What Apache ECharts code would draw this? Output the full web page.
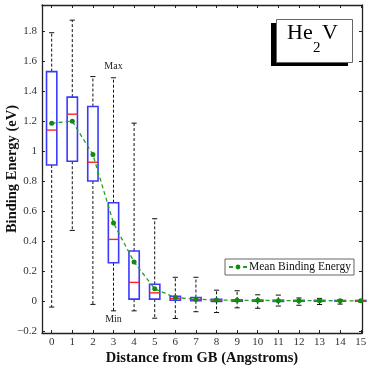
<!DOCTYPE html>
<html>
<head>
<meta charset="utf-8">
<script src="https://cdn.jsdelivr.net/npm/echarts@6/dist/echarts.min.js"></script>
<style>
  html, body { margin: 0; padding: 0; background: #fff; }
  #main { width: 374px; height: 369px; }
</style>
</head>
<body>
<div id="main"></div>
<script>
// distance from GB (x positions)
const distances = [0, 1, 2, 3, 4, 5, 6, 7, 8, 9, 10, 11, 12, 13, 14, 15];
// box plot stats per distance
const minVals    = [-0.042, 0.47, -0.024, -0.067, -0.067, -0.116, -0.118, -0.073, -0.078, -0.047, -0.05, -0.035, -0.03, -0.025, -0.022, -0.008];
const q1Vals     = [0.907, 0.932, 0.80, 0.254, 0.011, 0.011, 0.004, 0.0, -0.004, -0.003, -0.003, -0.004, -0.003, -0.003, -0.002, -0.002];
const medianVals = [1.14, 1.246, 0.925, 0.41, 0.123, 0.053, 0.015, 0.008, 0.002, 0.001, 0.001, 0.0, 0.0, 0.0, 0.0, 0.0];
const q3Vals     = [1.53, 1.36, 1.297, 0.655, 0.332, 0.11, 0.03, 0.022, 0.01, 0.006, 0.005, 0.004, 0.003, 0.003, 0.002, 0.002];
const maxVals    = [1.79, 1.874, 1.497, 1.489, 1.186, 0.548, 0.157, 0.157, 0.071, 0.067, 0.04, 0.038, 0.019, 0.016, 0.008, 0.003];
// mean binding energy
const meanVals   = [1.186, 1.199, 0.976, 0.519, 0.259, 0.08, 0.022, 0.011, 0.005, 0.003, 0.003, 0.001, 0.001, 0.001, 0.0, 0.0];
// tick labels
const yTicks = [-0.2, 0, 0.2, 0.4, 0.6, 0.8, 1, 1.2, 1.4, 1.6, 1.8];
const xTicks = distances;

const FONT = 'Liberation Serif';
const BOX_W = 0.5;   // box width in x units
const CAP_W = 0.25;  // whisker cap width in x units

const boxData = distances.map((d, i) => [d, minVals[i], q1Vals[i], medianVals[i], q3Vals[i], maxVals[i]]);
const meanData = distances.map((d, i) => [d, meanVals[i]]);

const myChart = echarts.init(document.getElementById('main'));

const renderBox = (params, api) => {
    const x = api.value(0);
    const pMin = api.coord([x, api.value(1)]);
    const pQ1 = api.coord([x, api.value(2)]);
    const pMed = api.coord([x, api.value(3)]);
    const pQ3 = api.coord([x, api.value(4)]);
    const pMax = api.coord([x, api.value(5)]);
    const half = api.size([BOX_W, 0])[0] / 2;
    const cap = api.size([CAP_W, 0])[0] / 2;
    const cx = pMed[0];
    const dash = { stroke: '#111', lineWidth: 1, lineDash: [3, 2], fill: null };
    const solid = { stroke: '#111', lineWidth: 1, fill: null };
    return {
        type: 'group',
        children: [
            // whiskers
            { type: 'line', shape: { x1: cx, y1: pQ3[1], x2: cx, y2: pMax[1] }, style: dash },
            { type: 'line', shape: { x1: cx, y1: pQ1[1], x2: cx, y2: pMin[1] }, style: dash },
            { type: 'line', shape: { x1: cx - cap, y1: pMax[1], x2: cx + cap, y2: pMax[1] }, style: solid },
            { type: 'line', shape: { x1: cx - cap, y1: pMin[1], x2: cx + cap, y2: pMin[1] }, style: solid },
            // box
            {
                type: 'rect',
                shape: { x: cx - half, y: pQ3[1], width: half * 2, height: pQ1[1] - pQ3[1] },
                style: { stroke: '#3a3aff', lineWidth: 1.6, fill: null }
            },
            // median
            {
                type: 'line',
                shape: { x1: cx - half, y1: pMed[1], x2: cx + half, y2: pMed[1] },
                style: { stroke: '#ff2222', lineWidth: 1.4 }
            }
        ]
    };
};

const tickFmt = (v) => String(v).replace('-', '\u2212');

const frameLine = { show: true, onZero: false, lineStyle: { color: '#222', width: 1.3 } };

const option = {
    animation: false,
    grid: { left: 42, top: 5, right: 12, bottom: 36, containLabel: false, outerBoundsMode: 'none' },
    legend: {
        data: ['Mean Binding Energy'],
        left: 225,
        top: 259,
        backgroundColor: '#fff',
        borderColor: '#666',
        borderWidth: 1,
        borderRadius: 0,
        padding: [2, 3, 2, 3],
        itemWidth: 18,
        itemHeight: 6,
        textStyle: { fontFamily: FONT, fontSize: 11.5, color: '#111', padding: [0, 0, 0, -3] }
    },
    xAxis: [
        {
            type: 'value',
            min: -0.47,
            max: 15.06,
            name: 'Distance from GB (Angstroms)',
            nameLocation: 'middle',
            nameGap: 18,
            nameMoveOverlap: false,
            nameTextStyle: { fontFamily: FONT, fontSize: 14.5, fontWeight: 'bold', color: '#111' },
            axisLine: frameLine,
            axisTick: { show: true, inside: true, length: 3, customValues: xTicks, lineStyle: { color: '#222' } },
            axisLabel: { customValues: xTicks, fontFamily: FONT, fontSize: 11, color: '#333', margin: 4 },
            splitLine: { show: false }
        },
        {
            type: 'value',
            position: 'top',
            min: -0.47,
            max: 15.06,
            axisLine: frameLine,
            axisTick: { show: true, inside: true, length: 3, customValues: xTicks, lineStyle: { color: '#222' } },
            axisLabel: { show: false },
            splitLine: { show: false }
        }
    ],
    yAxis: [
        {
            type: 'value',
            min: -0.215,
            max: 1.975,
            name: 'Binding Energy (eV)',
            nameLocation: 'middle',
            nameGap: 22,
            nameMoveOverlap: false,
            nameTextStyle: { fontFamily: FONT, fontSize: 14.5, fontWeight: 'bold', color: '#111' },
            axisLine: frameLine,
            axisTick: { show: true, inside: true, length: 3, customValues: yTicks, lineStyle: { color: '#222' } },
            axisLabel: { customValues: yTicks, formatter: tickFmt, fontFamily: FONT, fontSize: 11, color: '#333', margin: 5 },
            splitLine: { show: false }
        },
        {
            type: 'value',
            position: 'right',
            min: -0.215,
            max: 1.975,
            axisLine: frameLine,
            axisTick: { show: true, inside: true, length: 3, customValues: yTicks, lineStyle: { color: '#222' } },
            axisLabel: { show: false },
            splitLine: { show: false }
        }
    ],
    series: [
        {
            name: 'Distribution',
            type: 'custom',
            xAxisIndex: 0,
            yAxisIndex: 0,
            renderItem: renderBox,
            encode: { x: 0, y: [1, 2, 3, 4, 5] },
            data: boxData,
            z: 2
        },
        {
            name: 'Mean Binding Energy',
            type: 'line',
            xAxisIndex: 0,
            yAxisIndex: 0,
            data: meanData,
            symbol: 'circle',
            symbolSize: 5,
            itemStyle: { color: '#118a11' },
            lineStyle: { color: '#22a022', width: 1.3, type: [4, 3] },
            z: 3
        }
    ],
    graphic: [
        // He2V label box with shadow
        { id: 'shadow', type: 'rect', left: 271, top: 23, shape: { width: 77, height: 43 }, style: { fill: '#000' }, z: 10 },
        { id: 'panel', type: 'rect', left: 276, top: 19, shape: { width: 76, height: 43 }, style: { fill: '#fff', stroke: '#666', lineWidth: 1 }, z: 11 },
        { id: 'he', type: 'text', x: 287, y: 33, style: { text: 'He', font: '22px "Liberation Serif"', fill: '#000', verticalAlign: 'middle' }, z: 12 },
        { id: 'sub2', type: 'text', x: 313, y: 48, style: { text: '2', font: '15px "Liberation Serif"', fill: '#000', verticalAlign: 'middle' }, z: 12 },
        { id: 'v', type: 'text', x: 322, y: 33, style: { text: 'V', font: '22px "Liberation Serif"', fill: '#000', verticalAlign: 'middle' }, z: 12 }
    ]
};

myChart.setOption(option);

// Max / Min annotations next to the distance-3 whiskers
const pMaxLabel = myChart.convertToPixel({ xAxisIndex: 0, yAxisIndex: 0 }, [3, 1.568]);
const pMinLabel = myChart.convertToPixel({ xAxisIndex: 0, yAxisIndex: 0 }, [3, -0.121]);
myChart.setOption({
    graphic: [
        { id: 'maxLabel', type: 'text', x: pMaxLabel[0], y: pMaxLabel[1], style: { text: 'Max', font: '10px "Liberation Serif"', fill: '#222', align: 'center', verticalAlign: 'middle' }, z: 12 },
        { id: 'minLabel', type: 'text', x: pMinLabel[0], y: pMinLabel[1], style: { text: 'Min', font: '10px "Liberation Serif"', fill: '#222', align: 'center', verticalAlign: 'middle' }, z: 12 }
    ]
});
</script>
</body>
</html>
